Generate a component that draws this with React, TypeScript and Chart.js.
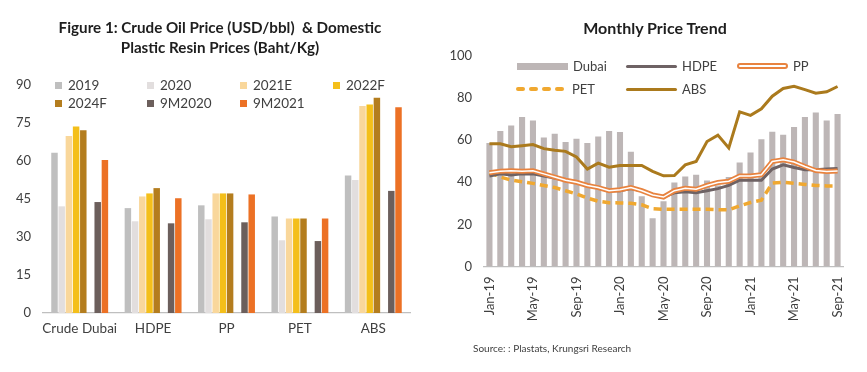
import React, { useEffect, useRef } from "react";
import { Chart, registerables } from "chart.js";

Chart.register(...registerables);

// ---------- Left chart data ----------
const products = ["Crude Dubai", "HDPE", "PP", "PET", "ABS"];
const y2019 = [63.3, 41.4, 42.5, 38.1, 54.3];
const y2020 = [42.1, 36.2, 37.0, 28.7, 52.5];
const y2021E = [69.9, 46.0, 47.2, 37.3, 81.7];
const y2022F = [73.6, 47.2, 47.2, 37.3, 82.3];
const y2024F = [72.1, 49.3, 47.2, 37.3, 85.0];
const m9y2020 = [43.8, 35.4, 35.8, 28.4, 48.2];
const m9y2021 = [60.4, 45.3, 46.8, 37.3, 81.2];
const leftTicks = [0, 15, 30, 45, 60, 75, 90];

// ---------- Right chart data ----------
const months = [
  "Jan-19", "Feb-19", "Mar-19", "Apr-19", "May-19", "Jun-19", "Jul-19", "Aug-19", "Sep-19", "Oct-19", "Nov-19", "Dec-19",
  "Jan-20", "Feb-20", "Mar-20", "Apr-20", "May-20", "Jun-20", "Jul-20", "Aug-20", "Sep-20", "Oct-20", "Nov-20", "Dec-20",
  "Jan-21", "Feb-21", "Mar-21", "Apr-21", "May-21", "Jun-21", "Jul-21", "Aug-21", "Sep-21",
];
const dubai = [58.7, 64.4, 67, 71, 69.3, 61.3, 63.1, 59.1, 60.7, 58.7, 61.7, 64.4, 63.9, 54.5, 33.4, 22.9, 31, 39.9, 42.7, 43.6, 40.8, 38.5, 42.5, 49.4, 54.2, 60.5, 64, 62.6, 66.3, 71, 73.2, 69.3, 72.5];
const hdpe = [43, 44, 43.5, 44, 44, 43, 42, 41, 40, 38.5, 37.5, 36, 36, 37, 36, 34, 33, 35, 35.5, 35, 36, 37, 38.5, 41, 41, 41, 46.3, 48.3, 47, 46, 46, 46.3, 46.6];
const pp = [44.5, 45.3, 45.5, 45.3, 45.5, 44, 42.5, 41, 40, 38.5, 37.5, 36, 36.5, 37.5, 36, 34, 33, 36, 37.2, 36.7, 38.5, 39.9, 40.5, 43, 43, 43.6, 49.9, 50.7, 49.6, 47.5, 45.6, 45.1, 45.4];
const pet = [44.5, 42.5, 41, 40.3, 39.5, 38.5, 37.5, 36, 34.5, 32.5, 31, 30.3, 30.2, 30, 29.3, 27.5, 27.2, 27.2, 27.2, 27.2, 27.2, 27, 26.9, 28.8, 30.4, 31.5, 39.6, 40, 39.5, 39, 38.5, 38.3, 38.3];
const abs = [58.3, 58.3, 56.9, 57.4, 57.9, 56.0, 55.2, 54.7, 52.0, 46.3, 49.1, 47.2, 48.0, 48.0, 48.0, 45.2, 43.1, 43.2, 48.3, 49.9, 59.4, 62.4, 56.3, 73.5, 71.8, 74.9, 80.9, 84.6, 85.6, 84.0, 82.3, 83.0, 85.5];
const rightTicks = [0, 20, 40, 60, 80, 100];

const FONT = "Lato, 'Open Sans', sans-serif";
const TXT = "#404040";

const leftColors = {
  c2019: "#bfbfbf",
  c2020: "#e2dede",
  c2021: "#f9d79b",
  c2022: "#f4bf1a",
  c2024: "#b47d1e",
  c9m20: "#6c5f5c",
  c9m21: "#ec7125",
};
const rc = {
  dubai: "#bdb6b6",
  hdpe: "#6e6264",
  pp: "#e8833f",
  pet: "#f0a830",
  abs: "#ab7a1d",
};

function LeftChart() {
  const ref = useRef<HTMLCanvasElement | null>(null);
  useEffect(() => {
    if (!ref.current) return;
    const mk = (label: string, data: (number | null)[], color: string) => ({
      label,
      data,
      backgroundColor: color,
      borderWidth: 0,
      barPercentage: 0.9,
      categoryPercentage: 0.785,
    });
    const chart = new Chart(ref.current, {
      type: "bar",
      data: {
        labels: products,
        datasets: [
          mk("2019", y2019, leftColors.c2019),
          mk("2020", y2020, leftColors.c2020),
          mk("2021E", y2021E, leftColors.c2021),
          mk("2022F", y2022F, leftColors.c2022),
          mk("2024F", y2024F, leftColors.c2024),
          mk("", products.map(() => null), "rgba(0,0,0,0)"),
          mk("9M2020", m9y2020, leftColors.c9m20),
          mk("9M2021", m9y2021, leftColors.c9m21),
        ],
      },
      options: {
        responsive: false,
        animation: false,
        layout: { padding: { left: 0, right: 20, top: 85, bottom: 19 } },
        plugins: { legend: { display: false }, title: { display: false }, tooltip: { enabled: false } },
        scales: {
          x: {
            grid: { display: false, drawTicks: false },
            border: { display: true, color: "#bfbfbf", width: 1.2 },
            ticks: { color: TXT, font: { family: FONT, size: 13.5 }, padding: 8, maxRotation: 0, minRotation: 0, autoSkip: false },
            afterFit: (s: any) => { s.height = 40; },
          },
          y: {
            min: 0,
            max: 90,
            afterBuildTicks: (s: any) => { s.ticks = leftTicks.map((v) => ({ value: v })); },
            grid: { display: false, drawTicks: false },
            border: { display: false },
            ticks: { color: TXT, font: { family: FONT, size: 13 }, padding: 12 },
            afterFit: (s: any) => { s.width = 43; },
          },
        },
      },
    });
    return () => chart.destroy();
  }, []);
  return <canvas ref={ref} width={430} height={372} style={{ position: "absolute", left: 0, top: 0 }} />;
}

function RightChart() {
  const ref = useRef<HTMLCanvasElement | null>(null);
  useEffect(() => {
    if (!ref.current) return;
    const line = (label: string, data: number[], color: string, width: number, order: number, dash?: number[]) => ({
      type: "line" as const,
      label,
      data,
      borderColor: color,
      backgroundColor: color,
      borderWidth: width,
      borderDash: dash || [],
      pointRadius: 0,
      tension: 0,
      fill: false,
      order,
    });
    const chart = new Chart(ref.current, {
      type: "bar",
      data: {
        labels: months,
        datasets: [
          {
            type: "bar" as const,
            label: "Dubai",
            data: dubai,
            backgroundColor: rc.dubai,
            borderWidth: 0,
            barPercentage: 0.56,
            categoryPercentage: 1,
            order: 10,
          },
          line("PET", pet, rc.pet, 3.5, 6, [8, 5]),
          line("HDPE", hdpe, rc.hdpe, 3, 5),
          line("PP", pp, rc.pp, 5, 4),
          line("PP inner", pp, "#ffffff", 1.5, 3),
          line("ABS", abs, rc.abs, 3, 2),
        ] as any,
      },
      options: {
        responsive: false,
        animation: false,
        layout: { padding: { left: 0, right: 24, top: 56, bottom: 35 } },
        plugins: { legend: { display: false }, title: { display: false }, tooltip: { enabled: false } },
        scales: {
          x: {
            grid: { display: false, drawTicks: false },
            border: { display: true, color: "#bfbfbf", width: 1.2 },
            ticks: {
              color: TXT,
              font: { family: FONT, size: 13 },
              padding: 10,
              autoSkip: false,
              maxRotation: 90,
              minRotation: 90,
              callback: (_v: any, i: number) => (i % 4 === 0 ? months[i] : ""),
            },
            afterFit: (s: any) => { s.height = 70.5; },
          },
          y: {
            min: 0,
            max: 100,
            afterBuildTicks: (s: any) => { s.ticks = rightTicks.map((v) => ({ value: v })); },
            grid: { display: false, drawTicks: false },
            border: { display: false },
            ticks: { color: TXT, font: { family: FONT, size: 13 }, padding: 12 },
            afterFit: (s: any) => { s.width = 54; },
          },
        },
      },
    });
    return () => chart.destroy();
  }, []);
  return <canvas ref={ref} width={437} height={372} style={{ position: "absolute", left: 430, top: 0 }} />;
}

const leftLegend = [
  { label: "2019", color: leftColors.c2019, x: 55, y: 85 },
  { label: "2020", color: leftColors.c2020, x: 147, y: 85 },
  { label: "2021E", color: leftColors.c2021, x: 240, y: 85 },
  { label: "2022F", color: leftColors.c2022, x: 333, y: 85 },
  { label: "2024F", color: leftColors.c2024, x: 55, y: 103 },
  { label: "9M2020", color: leftColors.c9m20, x: 147, y: 103 },
  { label: "9M2021", color: leftColors.c9m21, x: 240, y: 103 },
];

function Sample({ kind, color }: { kind: string; color: string }) {
  const base: React.CSSProperties = { position: "absolute", left: 0, width: 51 };
  if (kind === "bar") return <div style={{ ...base, top: -3, height: 7, background: color }} />;
  if (kind === "line") return <div style={{ ...base, top: -1.5, height: 3.5, background: color, borderRadius: 2 }} />;
  if (kind === "double")
    return <div style={{ ...base, top: -3, height: 6, boxSizing: "border-box", border: `2px solid ${color}`, background: "#fff", borderRadius: 3 }} />;
  // dashed
  return (
    <div style={{ ...base, top: -2, height: 4 }}>
      {[0, 13, 26, 39].map((x) => (
        <div key={x} style={{ position: "absolute", left: x, top: 0, width: 9, height: 4, background: color, borderRadius: 2 }} />
      ))}
    </div>
  );
}

const rightLegend = [
  { label: "Dubai", kind: "bar", color: rc.dubai, x: 517, y: 66 },
  { label: "HDPE", kind: "line", color: rc.hdpe, x: 626, y: 66 },
  { label: "PP", kind: "double", color: rc.pp, x: 737, y: 66 },
  { label: "PET", kind: "dash", color: rc.pet, x: 516, y: 89 },
  { label: "ABS", kind: "line", color: rc.abs, x: 626, y: 89 },
];

export default function App() {
  return (
    <div style={{ position: "absolute", left: 0, top: 0, width: 867, height: 372, background: "#fff", fontFamily: FONT, overflow: "hidden" }}>
      <LeftChart />
      <RightChart />
      <div style={{ position: "absolute", left: 0, top: 17, width: 440, textAlign: "center", fontWeight: 700, fontSize: 15.2, lineHeight: "20px", color: "#1e1e1e" }}>
        Figure 1: Crude Oil Price (USD/bbl)&nbsp; &amp; Domestic
        <br />
        Plastic Resin Prices (Baht/Kg)
      </div>
      <div style={{ position: "absolute", left: 430, top: 18, width: 450, textAlign: "center", fontWeight: 700, fontSize: 16, lineHeight: "20px", color: "#1e1e1e" }}>
        Monthly Price Trend
      </div>
      {leftLegend.map((it) => (
        <div key={it.label} style={{ position: "absolute", left: it.x, top: it.y, height: 0 }}>
          <div style={{ position: "absolute", left: 0, top: -3.5, width: 7, height: 7, background: it.color }} />
          <div style={{ position: "absolute", left: 13, top: -9, fontSize: 13.5, lineHeight: "18px", color: TXT, whiteSpace: "nowrap" }}>{it.label}</div>
        </div>
      ))}
      {rightLegend.map((it) => (
        <div key={it.label} style={{ position: "absolute", left: it.x, top: it.y, height: 0 }}>
          <Sample kind={it.kind} color={it.color} />
          <div style={{ position: "absolute", left: 56, top: -9, fontSize: 13, lineHeight: "18px", color: TXT, whiteSpace: "nowrap" }}>{it.label}</div>
        </div>
      ))}
      <div style={{ position: "absolute", left: 473, top: 341, fontSize: 10, lineHeight: "14px", color: TXT, whiteSpace: "nowrap" }}>
        Source: : Plastats, Krungsri Research
      </div>
    </div>
  );
}
